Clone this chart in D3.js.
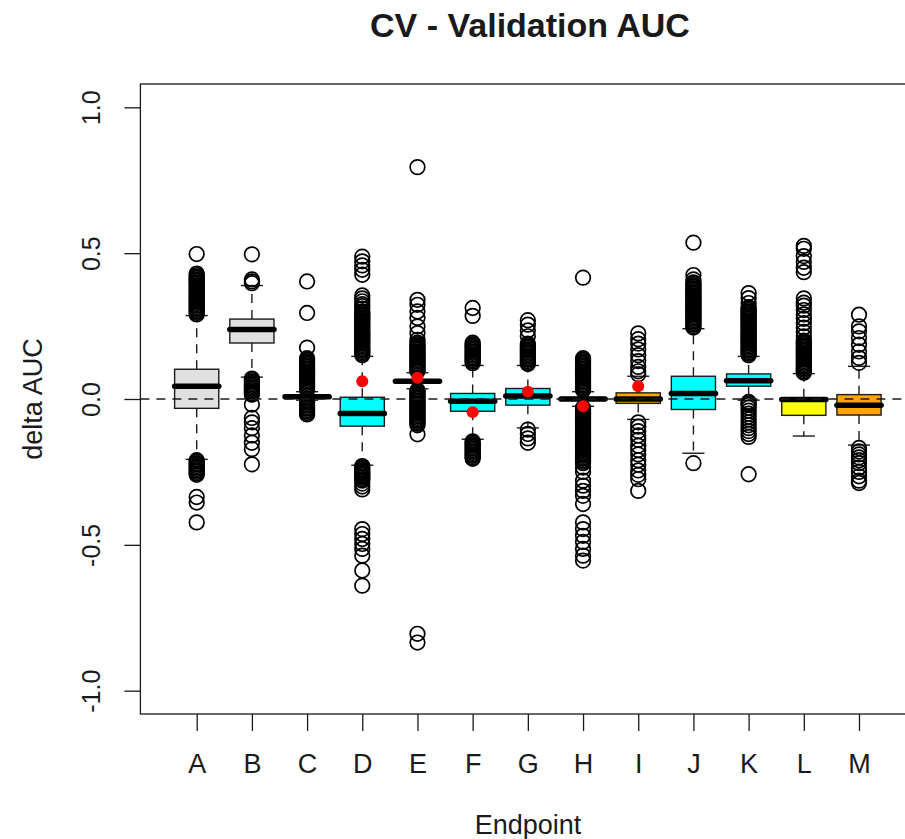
<!DOCTYPE html>
<html><head><meta charset="utf-8">
<script src="https://cdn.jsdelivr.net/npm/d3@7"></script>
<style>body{margin:0;background:#fff}</style>
</head><body>
<svg id="chart" width="905" height="839"></svg>
<script>
// ---------- data ----------
const categories = ["A","B","C","D","E","F","G","H","I","J","K","L","M"];
const whiskerLow  = [-0.207, 0.075, -0.004, -0.227, 0.035, -0.138, -0.099, -0.025, -0.070, -0.186, -0.004, -0.127, -0.158];
const q1          = [-0.032, 0.192,  0.003, -0.093, 0.056, -0.042, -0.021, -0.005, -0.015, -0.036,  0.044, -0.056, -0.055];
const medians     = [ 0.044, 0.238,  0.0075,-0.050, 0.061, -0.0075, 0.010,  0.000,  0.000,  0.019,  0.063, -0.002, -0.021];
const q3          = [ 0.102, 0.274,  0.013,  0.006, 0.066,  0.019,  0.036,  0.005,  0.021,  0.078,  0.086,  0.004,  0.015];
const whiskerHigh = [ 0.286, 0.389,  0.025,  0.146, 0.090,  0.115,  0.115,  0.025,  0.078,  0.241,  0.146,  0.087,  0.112];
const means       = [null, null, null, 0.061, 0.073, -0.045, 0.025, -0.025, 0.044, null, null, null, null];
const yTicks = [-1.0, -0.5, 0.0, 0.5, 1.0];

const outliersA = [0.497,0.43,0.425,0.42,0.415,0.41,0.405,0.40,0.395,0.39,0.385,0.38,0.375,0.37,0.365,0.36,0.355,0.35,0.345,0.34,0.335,0.33,0.325,0.32,0.315,0.31,0.305,0.30,0.295,0.29,
  -0.21,-0.215,-0.22,-0.225,-0.23,-0.235,-0.24,-0.245,-0.25,-0.255,-0.26,-0.336,-0.355,-0.423];
const outliersB = [0.496,0.41,0.403,0.397,0.07,0.065,0.06,0.055,0.05,0.045,0.04,0.035,0.03,0.025,0.02,0.015,
  -0.019,-0.065,-0.08,-0.10,-0.125,-0.15,-0.172,-0.224];
const outliersC = [0.403,0.295,0.176,0.14,0.135,0.13,0.125,0.12,0.115,0.11,0.105,0.10,0.095,0.09,0.085,0.08,0.075,0.07,0.065,0.06,0.055,0.05,0.045,0.04,0.035,0.03,
  -0.008,-0.013,-0.018,-0.023,-0.028,-0.033,-0.038,-0.043,-0.048,-0.053];
const outliersD = [0.488,0.472,0.458,0.443,0.426,0.355,0.345,0.335,0.325,0.318,0.31,0.30,0.295,0.29,0.285,0.28,0.275,0.27,0.265,0.26,0.255,0.25,0.245,0.24,0.235,0.23,0.225,0.22,0.215,0.21,0.205,0.20,0.195,0.19,0.185,0.18,0.175,0.17,0.165,0.16,0.155,0.15,
  -0.23,-0.235,-0.24,-0.245,-0.25,-0.255,-0.26,-0.265,-0.27,-0.275,-0.28,-0.29,-0.30,-0.31,-0.446,-0.463,-0.48,-0.497,-0.514,-0.537,-0.588,-0.64];
const outliersE = [0.795,0.34,0.323,0.30,0.278,0.249,0.226,0.203,0.193,0.188,0.183,0.178,0.173,0.168,0.163,0.158,0.153,0.148,0.143,0.138,0.133,0.128,0.123,0.118,0.113,0.108,0.103,0.098,0.095,
  0.03,0.025,0.02,0.015,0.01,0.005,0.0,-0.005,-0.01,-0.015,-0.02,-0.025,-0.03,-0.035,-0.04,-0.045,-0.05,-0.055,-0.06,-0.065,-0.07,-0.075,-0.08,-0.085,-0.09,-0.121,-0.805,-0.835];
const outliersF = [0.312,0.285,0.193,0.188,0.183,0.178,0.173,0.168,0.163,0.158,0.153,0.148,0.143,0.138,0.133,0.128,0.123,
  -0.145,-0.15,-0.155,-0.16,-0.165,-0.17,-0.175,-0.18,-0.185,-0.19,-0.195,-0.2,-0.205];
const outliersG = [0.27,0.255,0.235,0.215,0.19,0.185,0.18,0.175,0.17,0.165,0.16,0.155,0.15,0.145,0.14,0.135,0.13,0.125,0.12,
  -0.105,-0.12,-0.135,-0.15];
const outliersH = [0.416,0.14,0.135,0.13,0.125,0.12,0.115,0.11,0.105,0.1,0.095,0.09,0.085,0.08,0.075,0.07,0.065,0.06,0.055,0.05,0.045,0.04,0.035,0.03,
  -0.03,-0.035,-0.04,-0.045,-0.05,-0.055,-0.06,-0.065,-0.07,-0.075,-0.08,-0.085,-0.09,-0.095,-0.1,-0.105,-0.11,-0.115,-0.12,-0.125,-0.13,-0.135,-0.14,-0.145,-0.15,-0.155,-0.16,-0.165,-0.17,-0.175,-0.18,-0.185,-0.19,-0.195,-0.2,-0.205,-0.21,-0.215,-0.22,-0.235,-0.25,
  -0.28,-0.297,-0.315,-0.332,-0.36,-0.423,-0.446,-0.469,-0.49,-0.514,-0.537,-0.554];
const outliersI = [0.225,0.205,0.19,0.17,0.15,0.13,0.11,0.095,0.085,
  -0.08,-0.095,-0.11,-0.125,-0.14,-0.16,-0.175,-0.19,-0.21,-0.225,-0.245,-0.26,-0.275,-0.315];
const outliersJ = [0.536,0.425,0.41,0.4,0.395,0.39,0.385,0.38,0.375,0.37,0.365,0.36,0.355,0.35,0.345,0.34,0.335,0.33,0.325,0.32,0.315,0.31,0.305,0.3,0.295,0.29,0.285,0.28,0.275,0.27,0.265,0.26,0.255,0.25,0.245,
  -0.22];
const outliersK = [0.363,0.346,0.329,0.315,0.31,0.305,0.3,0.295,0.29,0.285,0.28,0.275,0.27,0.265,0.26,0.255,0.25,0.245,0.24,0.235,0.23,0.225,0.22,0.215,0.21,0.205,0.2,0.195,0.19,0.185,0.18,0.175,0.17,0.165,0.16,0.155,0.15,
  -0.01,-0.015,-0.02,-0.03,-0.04,-0.05,-0.06,-0.07,-0.08,-0.09,-0.1,-0.11,-0.12,-0.13,-0.258];
const outliersL = [0.525,0.515,0.49,0.47,0.45,0.435,0.345,0.33,0.32,0.305,0.29,0.275,0.26,0.245,0.23,0.215,0.2,
  0.195,0.19,0.185,0.18,0.175,0.17,0.165,0.16,0.155,0.15,0.145,0.14,0.135,0.13,0.125,0.12,0.115,0.11,0.105,0.1,0.095,0.09];
const outliersM = [0.289,0.249,0.232,0.209,0.186,0.163,0.141,0.124,
  -0.168,-0.18,-0.19,-0.2,-0.21,-0.22,-0.235,-0.25,-0.265,-0.28,-0.288];
const outliers = [outliersA,outliersB,outliersC,outliersD,outliersE,outliersF,outliersG,outliersH,outliersI,outliersJ,outliersK,outliersL,outliersM];

// ---------- styles ----------
const boxColors = ["#e0e0e0","#e0e0e0","#e0e0e0","#00ffff","#00ffff","#00ffff","#00ffff","#00ffff","#ffa500","#00ffff","#00ffff","#ffff00","#ffa500"];
const font = "'Liberation Sans', Arial, Helvetica, sans-serif";
const ink = "#1a1a1a";

const svg = d3.select("#chart");
const x = d3.scaleLinear().domain([-0.02, 14.02]).range([140.4, 915.3]);
const y = d3.scaleLinear().domain([-1.08, 1.08]).range([714, 84]);

const rows = categories.map((c, i) => ({
  c, pos: i + 1, lo: whiskerLow[i], q1: q1[i], med: medians[i], q3: q3[i], hi: whiskerHigh[i],
  mean: means[i], out: outliers[i], fill: boxColors[i]
}));

// title & axis labels
svg.append("text").attr("x", 530).attr("y", 37).attr("text-anchor", "middle")
  .attr("font-family", font).attr("font-weight", "bold").attr("font-size", 34).attr("fill", ink)
  .text("CV - Validation AUC");
svg.append("text").attr("x", 528).attr("y", 834).attr("text-anchor", "middle")
  .attr("font-family", font).attr("font-size", 27).attr("fill", ink).text("Endpoint");
svg.append("text").attr("transform", "translate(42,399) rotate(-90)").attr("text-anchor", "middle")
  .attr("font-family", font).attr("font-size", 27).attr("fill", ink).text("delta AUC");

// axes
const yAxis = svg.append("g").attr("transform", `translate(${x(-0.02)},0)`)
  .call(d3.axisLeft(y).tickValues(yTicks).tickSize(16).tickFormat(d => d.toFixed(1)));
yAxis.select(".domain").remove();
yAxis.selectAll(".tick line").attr("stroke", ink).attr("stroke-width", 1.3);
yAxis.selectAll(".tick text").attr("x", null).attr("dy", null).attr("y", null)
  .attr("transform", "translate(-40.5,0) rotate(-90)").attr("text-anchor", "middle")
  .attr("font-family", font).attr("font-size", 25).attr("fill", ink);

const xAxis = svg.append("g").attr("transform", `translate(0,${y(-1.08)})`)
  .call(d3.axisBottom(x).tickValues(d3.range(1, categories.length + 1)).tickSize(17)
    .tickFormat(d => categories[d - 1]));
xAxis.select(".domain").remove();
xAxis.selectAll(".tick line").attr("stroke", ink).attr("stroke-width", 1.3);
xAxis.selectAll(".tick text").attr("y", 58.7).attr("dy", null)
  .attr("font-family", font).attr("font-size", 27).attr("fill", ink);

// plot frame
svg.append("rect").attr("x", x(-0.02)).attr("y", y(1.08))
  .attr("width", x(14.02) - x(-0.02)).attr("height", y(-1.08) - y(1.08))
  .attr("fill", "none").attr("stroke", ink).attr("stroke-width", 1.3);

// boxes
const g = svg.append("g").selectAll("g").data(rows).join("g");
g.append("line").attr("x1", d => x(d.pos)).attr("x2", d => x(d.pos))
  .attr("y1", d => y(d.q3)).attr("y2", d => y(d.hi))
  .attr("stroke", ink).attr("stroke-width", 1.4).attr("stroke-dasharray", "9,7");
g.append("line").attr("x1", d => x(d.pos)).attr("x2", d => x(d.pos))
  .attr("y1", d => y(d.q1)).attr("y2", d => y(d.lo))
  .attr("stroke", ink).attr("stroke-width", 1.4).attr("stroke-dasharray", "9,7");
g.append("line").attr("x1", d => x(d.pos - 0.2)).attr("x2", d => x(d.pos + 0.2))
  .attr("y1", d => y(d.hi)).attr("y2", d => y(d.hi)).attr("stroke", ink).attr("stroke-width", 1.4);
g.append("line").attr("x1", d => x(d.pos - 0.2)).attr("x2", d => x(d.pos + 0.2))
  .attr("y1", d => y(d.lo)).attr("y2", d => y(d.lo)).attr("stroke", ink).attr("stroke-width", 1.4);
g.append("rect").attr("x", d => x(d.pos - 0.4)).attr("width", d => x(d.pos + 0.4) - x(d.pos - 0.4))
  .attr("y", d => y(d.q3)).attr("height", d => Math.max(0.5, y(d.q1) - y(d.q3)))
  .attr("fill", d => d.fill).attr("stroke", ink).attr("stroke-width", 1.4);
g.append("line").attr("x1", d => x(d.pos - 0.4)).attr("x2", d => x(d.pos + 0.4))
  .attr("y1", d => y(d.med)).attr("y2", d => y(d.med))
  .attr("stroke", "#000").attr("stroke-width", 5.5).attr("stroke-linecap", "round");
g.selectAll("circle.out").data(d => d.out.map(v => ({pos: d.pos, v}))).join("circle")
  .attr("class", "out").attr("cx", d => x(d.pos)).attr("cy", d => y(d.v)).attr("r", 7.3)
  .attr("fill", "none").attr("stroke", "#000").attr("stroke-width", 1.7);

// zero reference line
svg.append("line").attr("x1", x(-0.02)).attr("x2", x(14.02)).attr("y1", y(0)).attr("y2", y(0))
  .attr("stroke", ink).attr("stroke-width", 1.3).attr("stroke-dasharray", "9,7");

// means
svg.append("g").selectAll("circle").data(rows.filter(d => d.mean !== null)).join("circle")
  .attr("cx", d => x(d.pos)).attr("cy", d => y(d.mean)).attr("r", 6).attr("fill", "#ff0000");
</script>
</body></html>
